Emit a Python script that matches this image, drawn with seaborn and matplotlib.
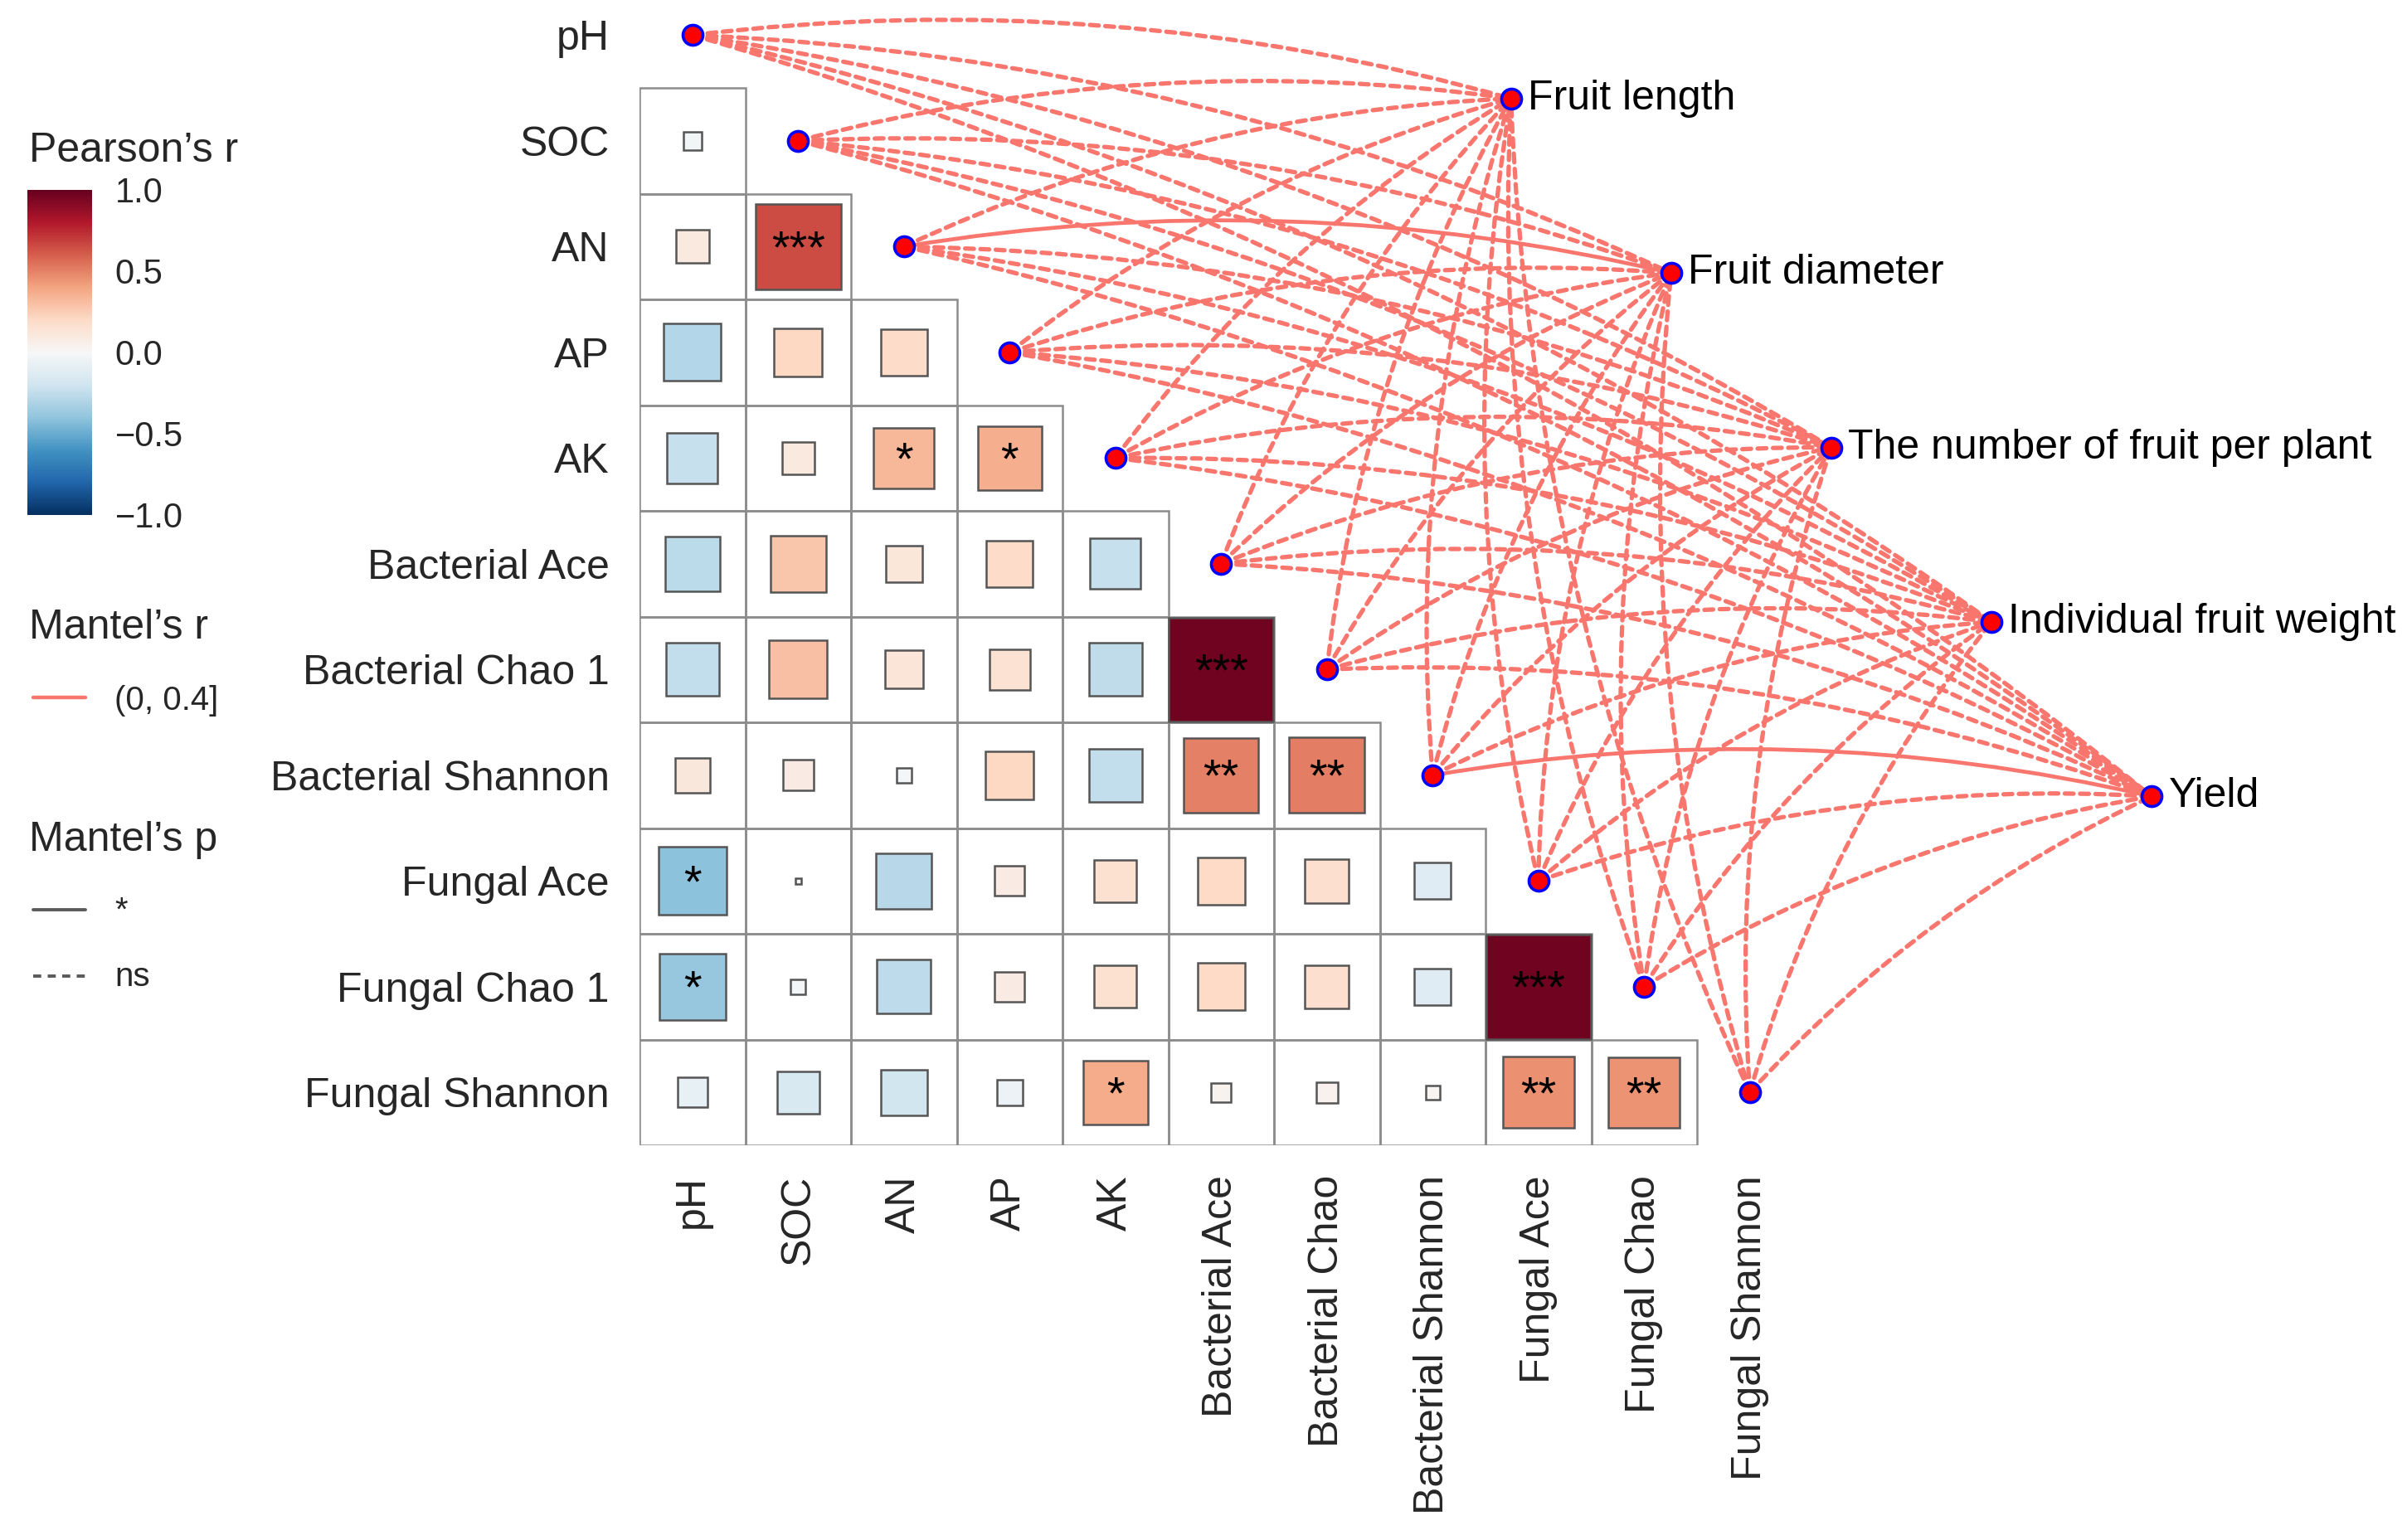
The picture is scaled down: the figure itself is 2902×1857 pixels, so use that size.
import numpy as np
import pandas as pd
import matplotlib
matplotlib.use("Agg")
import matplotlib.pyplot as plt
import seaborn as sns
from matplotlib.patches import Rectangle, FancyArrowPatch
from matplotlib.lines import Line2D
from matplotlib.colors import Normalize
from matplotlib.cm import ScalarMappable
from matplotlib.ticker import FuncFormatter

# ---------------- data ----------------
row_labels = ["pH", "SOC", "AN", "AP", "AK", "Bacterial Ace", "Bacterial Chao 1",
              "Bacterial Shannon", "Fungal Ace", "Fungal Chao 1", "Fungal Shannon"]
col_labels = ["pH", "SOC", "AN", "AP", "AK", "Bacterial Ace", "Bacterial Chao",
              "Bacterial Shannon", "Fungal Ace", "Fungal Chao", "Fungal Shannon"]

# Pearson's r, lower triangle (row i holds columns 0..i-1)
r_SOC = [-0.03]
r_AN = [0.10, 0.65]
r_AP = [-0.29, 0.21, 0.19]
r_AK = [-0.23, 0.095, 0.33, 0.36]
r_BacAce = [-0.27, 0.28, 0.12, 0.19, -0.23]
r_BacChao = [-0.25, 0.30, 0.13, 0.15, -0.255, 0.97]
r_BacShannon = [0.11, 0.085, -0.02, 0.21, -0.25, 0.50, 0.51]
r_FunAce = [-0.41, 0.003, -0.28, 0.08, 0.16, 0.20, 0.17, -0.12]
r_FunChao = [-0.39, -0.02, -0.26, 0.08, 0.16, 0.20, 0.17, -0.12, 0.97]
r_FunShannon = [-0.08, -0.16, -0.19, -0.06, 0.37, 0.034, 0.04, 0.017, 0.455, 0.45]

# significance labels
sig_SOC = [""]
sig_AN = ["", "***"]
sig_AP = ["", "", ""]
sig_AK = ["", "", "*", "*"]
sig_BacAce = ["", "", "", "", ""]
sig_BacChao = ["", "", "", "", "", "***"]
sig_BacShannon = ["", "", "", "", "", "**", "**"]
sig_FunAce = ["*", "", "", "", "", "", "", ""]
sig_FunChao = ["*", "", "", "", "", "", "", "", "***"]
sig_FunShannon = ["", "", "", "", "*", "", "", "", "**", "**"]

r_rows = [r_SOC, r_AN, r_AP, r_AK, r_BacAce, r_BacChao, r_BacShannon,
          r_FunAce, r_FunChao, r_FunShannon]
sig_rows = [sig_SOC, sig_AN, sig_AP, sig_AK, sig_BacAce, sig_BacChao,
            sig_BacShannon, sig_FunAce, sig_FunChao, sig_FunShannon]

# Mantel test: targets, Mantel's r class and Mantel's p class per env variable
targets = ["Fruit length", "Fruit diameter", "The number of fruit per plant",
           "Individual fruit weight", "Yield"]
mantel_r_class = "(0, 0.4]"
p_fruit_length = ["ns", "ns", "ns", "ns", "ns", "ns", "ns", "ns", "ns", "ns", "ns"]
p_fruit_diameter = ["ns", "ns", "*", "ns", "ns", "ns", "ns", "ns", "ns", "ns", "ns"]
p_fruit_number = ["ns", "ns", "ns", "ns", "ns", "ns", "ns", "ns", "ns", "ns", "ns"]
p_fruit_weight = ["ns", "ns", "ns", "ns", "ns", "ns", "ns", "ns", "ns", "ns", "ns"]
p_yield = ["ns", "ns", "ns", "ns", "ns", "ns", "ns", "*", "ns", "ns", "ns"]
mantel_p = [p_fruit_length, p_fruit_diameter, p_fruit_number, p_fruit_weight, p_yield]

# ---------------- style ----------------
sns.set_theme(style="white")
plt.rcParams['font.family'] = ['Liberation Sans', 'DejaVu Sans']
plt.rcParams['axes.unicode_minus'] = True

W, H = 2902, 1857
DPI = 200
fig = plt.figure(figsize=(W / DPI, H / DPI), dpi=DPI)
fig.patch.set_facecolor("white")

cell_px = 127.5
grid_left_px = 771
row0_px = 42.3
x_right = -0.5 + (W - grid_left_px) / cell_px
y_top = -row0_px / cell_px
ax_h_px = (10.5 - y_top) * cell_px
ax = fig.add_axes([grid_left_px / W, 1 - ax_h_px / H, (W - grid_left_px) / W, ax_h_px / H])
ax.set_xlim(-0.5, x_right)
ax.set_ylim(10.5, y_top)
ax.set_facecolor("none")
for s in ax.spines.values():
    s.set_visible(False)

cmap = plt.get_cmap("RdBu_r")
norm = Normalize(-1, 1)
grid_col = "#8C8C8C"
edge_col = "#555555"
line_col = "#F8766D"
dash = (0, (2.0, 1.5))

# grid cells + squares
n = len(row_labels)
for i in range(1, n):
    vals = r_rows[i - 1]
    sigs = sig_rows[i - 1]
    for j in range(i):
        ax.add_patch(Rectangle((j - 0.5, i - 0.5), 1, 1, fill=False, ec=grid_col,
                               lw=0.9, zorder=1))
        r = vals[j]
        side = np.sqrt(abs(r))
        ax.add_patch(Rectangle((j - side / 2, i - side / 2), side, side,
                               fc=cmap(norm(r)), ec=edge_col, lw=0.9, zorder=2))
        if sigs[j]:
            ax.text(j, i + 0.04, sigs[j], ha="center", va="center", fontsize=20,
                    color="black", zorder=3)

# target node layout
tx = np.linspace(7.74, 13.8, len(targets))
ty = np.linspace(0.60, 7.20, len(targets))

# links
for ti in range(len(targets)):
    for ei in range(n):
        solid = mantel_p[ti][ei] == "*"
        p = FancyArrowPatch((ei, ei), (tx[ti], ty[ti]), connectionstyle="arc3,rad=-0.1",
                            arrowstyle="-", color=line_col,
                            lw=1.7 if solid else 1.9,
                            linestyle="-" if solid else dash,
                            shrinkA=0, shrinkB=0, zorder=4)
        ax.add_patch(p)

# nodes
nodes = pd.DataFrame({
    "x": list(range(n)) + list(tx),
    "y": list(range(n)) + list(ty),
})
sns.scatterplot(data=nodes, x="x", y="y", ax=ax, color="red", edgecolor="blue",
                s=75, linewidth=1.3, zorder=5, legend=False, clip_on=False)

for ti, name in enumerate(targets):
    ax.text(tx[ti] + 0.16, ty[ti], name, ha="left", va="center", fontsize=18,
            color="black", clip_on=False)

# axes labels
ax.set_xticks(range(n))
ax.set_xticklabels(col_labels, rotation=90, fontsize=18)
ax.set_yticks(range(n))
ax.set_yticklabels(row_labels, fontsize=18)
ax.tick_params(axis="x", length=0, pad=13)
ax.tick_params(axis="y", length=0, pad=13)
ax.set_xlabel("")
ax.set_ylabel("")
ax.grid(False)

# ---------------- legends ----------------
def fy(px):
    return 1 - px / H

def fx(px):
    return px / W

fig.text(fx(35), fy(195), "Pearson\u2019s r", fontsize=18, va="baseline", ha="left")
cax = fig.add_axes([fx(33), fy(621), 78 / W, 392 / H])
cb = fig.colorbar(ScalarMappable(norm=norm, cmap=cmap), cax=cax,
                  ticks=[-1, -0.5, 0, 0.5, 1])
cb.outline.set_visible(False)
cax.yaxis.set_major_formatter(FuncFormatter(lambda v, p: f"{v:.1f}".replace("-", "\u2212")))
cax.tick_params(axis="y", which="major", direction="in", length=6, width=1,
                color="white", left=True, right=True, labelsize=15, pad=10)
cax.tick_params(which="minor", length=0)

fig.text(fx(35), fy(770), "Mantel\u2019s r", fontsize=18, va="baseline", ha="left")
fig.add_artist(Line2D([fx(40), fx(103)], [fy(841), fy(841)], color=line_col, lw=1.6,
                      transform=fig.transFigure))
fig.text(fx(138), fy(856), mantel_r_class, fontsize=14.5, va="baseline", ha="left")

fig.text(fx(35), fy(1026), "Mantel\u2019s p", fontsize=18, va="baseline", ha="left")
fig.add_artist(Line2D([fx(40), fx(103)], [fy(1097), fy(1097)], color="#5A5A5A", lw=1.4,
                      transform=fig.transFigure))
fig.text(fx(138), fy(1110), "*", fontsize=14.5, va="baseline", ha="left")
fig.add_artist(Line2D([fx(40), fx(103)], [fy(1177), fy(1177)], color="#5A5A5A", lw=1.4,
                      linestyle=(0, (2.5, 2.0)), transform=fig.transFigure))
fig.text(fx(138), fy(1189), "ns", fontsize=14.5, va="baseline", ha="left")

fig.savefig("out.png", dpi=DPI, facecolor="white")
